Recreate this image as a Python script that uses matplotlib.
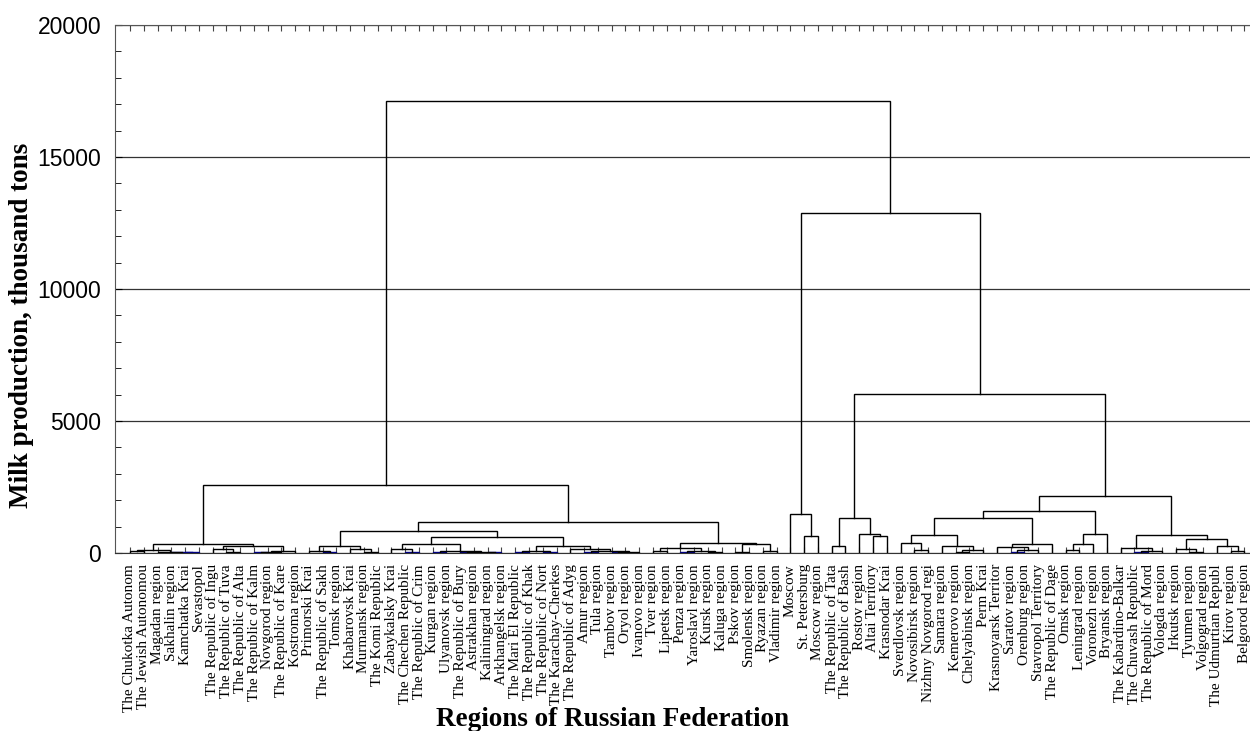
import matplotlib
matplotlib.use("Agg")
import matplotlib.pyplot as plt
from matplotlib.ticker import MultipleLocator

labels = ["The Chukotka Autonom", "The Jewish Autonomou", "Magadan region", "Sakhalin region",
          "Kamchatka Krai", "Sevastopol", "The Republic of Ingu", "The Republic of Tuva",
          "The Republic of Alta", "The Republic of Kalm", "Novgorod region", "The Republic of Kare",
          "Kostroma region", "Primorski Krai", "The Republic of Sakh", "Tomsk region",
          "Khabarovsk Krai", "Murmansk region", "The Komi Republic", "Zabaykalsky Krai",
          "The Chechen Republic", "The Republic of Crim", "Kurgan region", "Ulyanovsk region",
          "The Republic of Bury", "Astrakhan region", "Kaliningrad region", "Arkhangelsk region",
          "The Mari El Republic", "The Republic of Khak", "The Republic of Nort", "The Karachay-Cherkes",
          "The Republic of Adyg", "Amur region", "Tula region", "Tambov region", "Oryol region",
          "Ivanovo region", "Tver region", "Lipetsk region", "Penza region", "Yaroslavl region",
          "Kursk region", "Kaluga region", "Pskov region", "Smolensk region", "Ryazan region",
          "Vladimir region", "Moscow", "St. Petersburg", "Moscow region", "The Republic of Tata",
          "The Republic of Bash", "Rostov region", "Altai Territory", "Krasnodar Krai",
          "Sverdlovsk region", "Novosibirsk region", "Nizhny Novgorod regi", "Samara region",
          "Kemerovo region", "Chelyabinsk region", "Perm Krai", "Krasnoyarsk Territor",
          "Saratov region", "Orenburg region", "Stavropol Territory", "The Republic of Dage",
          "Omsk region", "Leningrad region", "Voronezh region", "Bryansk region",
          "The Kabardino-Balkar", "The Chuvash Republic", "The Republic of Mord", "Vologda region",
          "Irkutsk region", "Tyumen region", "Volgograd region", "The Udmurtian Republ",
          "Kirov region", "Belgorod region"]

# cluster tree: [left, right, merge height]; ints are leaf indices
cl_far_east = [[0, 1, 80], [2, [3, [4, 5, 20], 30], 45], 100]
cl_republics = [[6, [7, 8, 40], 150], [[[9, 10, 30], 11, 50], 12, 90], 253]
cl_A = [cl_far_east, cl_republics, 353]
cl_E = [[13, [14, 15, 20], 70], [16, [17, 18, 40], 150], 253]
cl_G = [[19, [20, 21, 30], 150], [[22, 23, 30], [[24, 25, 20], [26, 27, 25], 40], 70], 341]
cl_Fr = [[[28, 29, 20], [30, 31, 30], 60],
         [32, [[33, 34, 30], [[35, 36, 20], 37, 50], 70], 150], 253]
cl_F = [cl_G, cl_Fr, 606]
cl_D = [cl_E, cl_F, 822]
cl_H = [[[38, 39, 60], [[40, 41, 30], [42, 43, 40], 70], 177],
        [[44, 45, 50], [46, 47, 90], 328], 391]
cl_C = [cl_D, cl_H, 1160]
cl_left = [cl_A, cl_C, 2564]

cl_moscow = [48, [49, 50, 632], 1490]
cl_south = [[51, 52, 253], [53, [54, 55, 632], 733], 1313]
cl_S1 = [[56, [57, 58, 100], 367], [59, [[60, 61, 40], 62, 120], 253], 670]
cl_S2 = [[63, [[64, 65, 30], 66, 100], 227], 67, 328]
cl_1600 = [[cl_S1, cl_S2, 1313], [[[68, 69, 100], 70, 328], 71, 708], 1603]
cl_R670 = [[72, [[73, 74, 30], 75, 60], 177],
           [[76, [77, 78, 40], 150], [79, [80, 81, 80], 253], 518], 670]
cl_2160 = [cl_1600, cl_R670, 2159]
cl_6000 = [cl_south, cl_2160, 6010]
cl_right = [cl_moscow, cl_6000, 12890]
tree = [cl_left, cl_right, 17120]

W, H = 1250, 731
fig = plt.figure(figsize=(W / 100, H / 100), dpi=100)
ax = fig.add_axes([115 / W, (H - 553) / H, (W - 115) / W, (553 - 25) / H])

segments = []


def draw(node):
    if isinstance(node, int):
        return float(node), 0.0
    l, r, h = node
    xl, hl = draw(l)
    xr, hr = draw(r)
    segments.append((xl, xr, hl, hr, h))
    return (xl + xr) / 2.0, h


draw(tree)
for xl, xr, hl, hr, h in segments:
    col = "#000080" if h <= 35 else "black"
    ax.plot([xl, xl, xr, xr], [hl, h, h, hr], color=col, lw=1.0, solid_joinstyle="miter",
            zorder=3)

ax.set_xlim(-1.09, 81.4)
ax.set_ylim(0, 20000)
ax.yaxis.set_major_locator(MultipleLocator(5000))
ax.yaxis.set_minor_locator(MultipleLocator(1000))
ax.grid(axis="y", which="major", color="#333333", lw=0.9, zorder=1)
ax.set_xticks(range(len(labels)))
ax.set_xticklabels(labels, rotation=90, fontfamily="Liberation Serif", fontsize=11)
ax.tick_params(axis="x", which="both", direction="in", length=4, top=True, bottom=True,
               pad=8, color="#444444")
ax.tick_params(axis="y", which="major", direction="in", length=5, labelsize=16.5, pad=10)
ax.tick_params(axis="y", which="minor", direction="in", length=4)
for lab in ax.get_yticklabels():
    lab.set_fontfamily("Liberation Sans")
for s in ["left", "top"]:
    ax.spines[s].set_color("#555555")
ax.spines["bottom"].set_color("#333333")
ax.spines["right"].set_visible(False)

fig.text(22 / W, 1 - 325 / H, "Milk production, thousand tons", rotation=90, ha="center",
         va="center", fontsize=19.5, fontweight="bold", fontfamily="Liberation Serif")
fig.text(613 / W, 1 - 719 / H, "Regions of Russian Federation", ha="center", va="center",
         fontsize=19.5, fontweight="bold", fontfamily="Liberation Serif")

fig.savefig("out.png", dpi=100)
